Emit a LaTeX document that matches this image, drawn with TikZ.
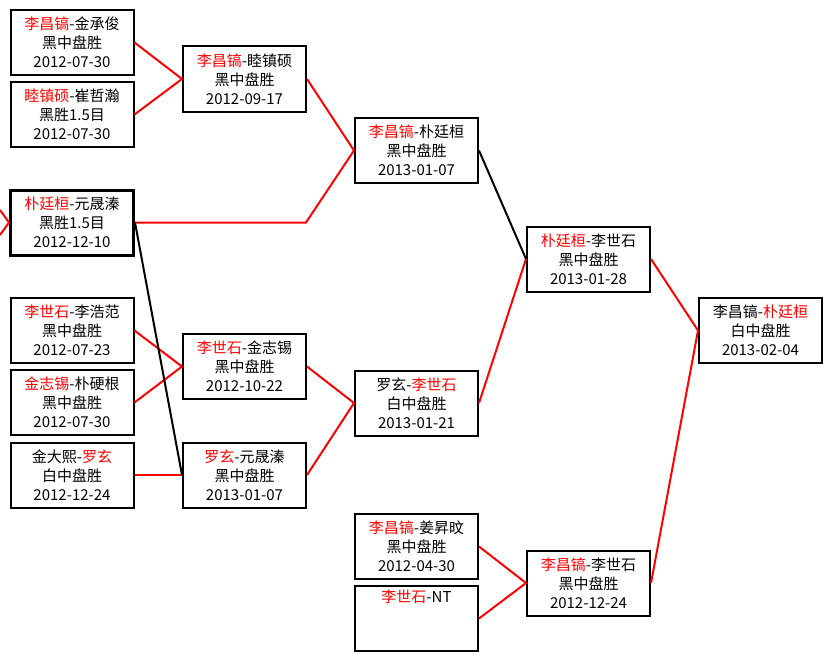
\documentclass[tikz,border=0pt]{standalone}
\usepackage{fontspec}
\setmainfont{Noto Sans CJK SC}
\usetikzlibrary{positioning}
\tikzset{font=\fontsize{15pt}{19pt}\selectfont}
\tikzset{game/.style={draw, line width=2pt, fill=white, minimum width=123pt, minimum height=65pt, inner sep=1pt, align=center}}
\tikzset{win/.style={draw=red, line width=2pt}}
\tikzset{lose/.style={draw=black, line width=2pt}}
\newcommand{\hl}[1]{\textcolor{red}{#1}}

\begin{document}
\begin{tikzpicture}[x=1pt,y=-1pt]
  \useasboundingbox (0,0) rectangle (832,661);

  % first column
  \node[game] (a1) at (72,42.5) {\hl{李昌镐}-金承俊\\黑中盘胜\\2012-07-30};
  \node[game] (a2) at (72,114.5) {\hl{睦镇硕}-崔哲瀚\\黑胜1.5目\\2012-07-30};
  \node[game, line width=3pt] (a3) at (72,222.5) {\hl{朴廷桓}-元晟溱\\黑胜1.5目\\2012-12-10};
  \node[game] (a4) at (72,330.5) {\hl{李世石}-李浩范\\黑中盘胜\\2012-07-23};
  \node[game] (a5) at (72,402.5) {\hl{金志锡}-朴硬根\\黑中盘胜\\2012-07-30};
  \node[game] (a6) at (72,475) {金大熙-\hl{罗玄}\\白中盘胜\\2012-12-24};

  % second column
  \node[game] (b1) at (244.5,79) {\hl{李昌镐}-睦镇硕\\黑中盘胜\\2012-09-17};
  \node[game] (b2) at (244.5,366.5) {\hl{李世石}-金志锡\\黑中盘胜\\2012-10-22};
  \node[game] (b3) at (244.5,475) {\hl{罗玄}-元晟溱\\黑中盘胜\\2013-01-07};

  % third column
  \node[game] (c1) at (416.5,150.5) {\hl{李昌镐}-朴廷桓\\黑中盘胜\\2013-01-07};
  \node[game] (c2) at (416.5,403) {罗玄-\hl{李世石}\\白中盘胜\\2013-01-21};
  \node[game] (c3) at (416.5,546.5) {\hl{李昌镐}-姜昇旼\\黑中盘胜\\2012-04-30};
  \node[game] (c4) at (416.5,618.5) {\hl{李世石}-NT\\\strut\\\strut};

  % semifinals and final
  \node[game] (d1) at (588.5,259) {\hl{朴廷桓}-李世石\\黑中盘胜\\2013-01-28};
  \node[game] (d2) at (588.5,583) {\hl{李昌镐}-李世石\\黑中盘胜\\2012-12-24};
  \node[game] (e1) at (760.5,330.5) {李昌镐-\hl{朴廷桓}\\白中盘胜\\2013-02-04};

  \coordinate (in1) at (0,210);
  \coordinate (in2) at (0,235);
  \coordinate (bend) at (306,222.5);

  \draw[win] (in1) -- (a3.west) -- (in2);
  \draw[win] (a1.east) -- (b1.west) -- (a2.east);
  \draw[win] (a4.east) -- (b2.west) -- (a5.east);
  \draw[win] (a6.east) -- (b3.west);
  \draw[win] (b1.east) -- (c1.west);
  \draw[win] (a3.east) -- (bend) -- (c1.west);
  \draw[win] (b2.east) -- (c2.west) -- (b3.east);
  \draw[win] (c3.east) -- (d2.west) -- (c4.east);
  \draw[win] (c2.east) -- (d1.west);
  \draw[win] (d1.east) -- (e1.west) -- (d2.east);
  \draw[lose] (a3.east) -- (b3.west);
  \draw[lose] (c1.east) -- (d1.west);
\end{tikzpicture}
\end{document}
